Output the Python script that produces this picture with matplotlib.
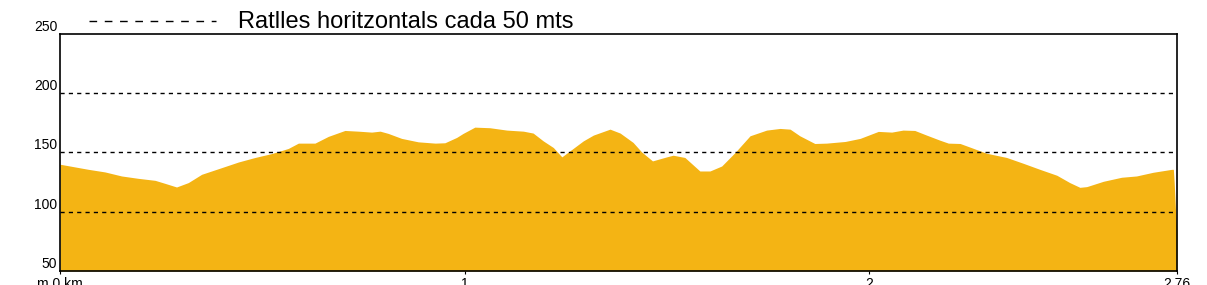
import matplotlib
matplotlib.use("Agg")
import matplotlib.pyplot as plt
from matplotlib.lines import Line2D
import matplotlib.transforms as mtransforms

plt.rcParams['font.family'] = ['Liberation Sans', 'DejaVu Sans']

# Elevation profile (distance in km, elevation in m)
distance_km = [0.000, 0.070, 0.111, 0.152, 0.193, 0.235, 0.259, 0.288, 0.317, 0.350,
               0.400, 0.441, 0.482, 0.523, 0.564, 0.589, 0.630, 0.663, 0.704, 0.737,
               0.770, 0.791, 0.811, 0.844, 0.885, 0.927, 0.951, 0.980, 0.996, 1.025,
               1.062, 1.104, 1.145, 1.169, 1.194, 1.219, 1.240, 1.260, 1.293, 1.318,
               1.359, 1.384, 1.416, 1.437, 1.464, 1.499, 1.515, 1.544, 1.581, 1.606,
               1.635, 1.668, 1.705, 1.746, 1.779, 1.804, 1.828, 1.865, 1.894, 1.940,
               1.977, 2.022, 2.055, 2.083, 2.112, 2.141, 2.174, 2.195, 2.224, 2.256,
               2.289, 2.339, 2.380, 2.421, 2.463, 2.495, 2.520, 2.537, 2.578, 2.623,
               2.660, 2.701, 2.747, 2.751, 2.753, 2.756, 2.760]
elevation_m = [140.1, 135.8, 133.6, 130.2, 128.2, 126.5, 124.0, 120.9, 124.6, 131.6,
               137.3, 142.0, 145.8, 149.1, 153.4, 157.9, 157.9, 163.6, 168.6, 168.0,
               167.2, 168.0, 166.1, 161.9, 159.0, 157.9, 158.2, 162.7, 166.1, 171.4,
               170.9, 168.9, 168.0, 166.4, 159.8, 154.2, 146.3, 151.4, 159.8, 164.7,
               169.7, 166.4, 158.5, 150.5, 142.9, 146.3, 147.7, 145.8, 134.4, 134.4,
               138.6, 150.0, 164.1, 168.9, 170.3, 169.7, 164.1, 157.6, 157.9, 159.3,
               161.9, 167.8, 167.2, 168.9, 168.6, 164.7, 160.4, 157.9, 157.6, 153.6,
               149.4, 145.8, 140.9, 135.8, 130.8, 124.6, 120.6, 121.2, 125.7, 129.1,
               130.2, 133.3, 135.8, 135.8, 125.1, 103.4, 82.2]

y_ticks = [50, 100, 150, 200, 250]
y_labels = ['50', '100', '150', '200', '250']
x_ticks = [0, 1, 2, 2.76]
x_labels = ['m 0 km', '1', '2', '2.76']
grid_levels = [100, 150, 200]
legend_text = 'Ratlles horitzontals cada 50 mts'

W, H = 1207, 285
fig = plt.figure(figsize=(W / 100, H / 100), dpi=100)
ax = fig.add_axes([60 / W, (H - 271) / H, (1177 - 60) / W, (271 - 34) / H])

ax.fill_between(distance_km, elevation_m, 50, color='#F4B414', linewidth=0, zorder=1)
for g in grid_levels:
    ax.axhline(g, color='black', linewidth=1.0, linestyle=(0, (3, 3)), zorder=3)

ax.set_xlim(0, 2.76)
ax.set_ylim(50, 250)
for s in ax.spines.values():
    s.set_color('black')
    s.set_linewidth(1.2)
    s.set_zorder(4)

ax.set_yticks(y_ticks)
ax.set_yticklabels(y_labels, fontsize=10, color='black')
ax.tick_params(axis='y', length=0, pad=2)
for lab in ax.get_yticklabels():
    lab.set_verticalalignment('bottom')

ax.set_xticks(x_ticks)
ax.set_xticklabels(x_labels, fontsize=10, color='black')
ax.tick_params(axis='x', length=2, pad=2, width=0.8)

# Legend at the top
fig.add_artist(Line2D([89 / W, 216 / W], [(H - 21) / H] * 2, color='black',
                      linewidth=1.0, linestyle=(0, (5.5, 5.5)), transform=fig.transFigure))
fig.text(238 / W, (H - 27.5) / H, legend_text, fontsize=17, color='black',
         ha='left', va='baseline')

fig.savefig('out.png', dpi=100)
